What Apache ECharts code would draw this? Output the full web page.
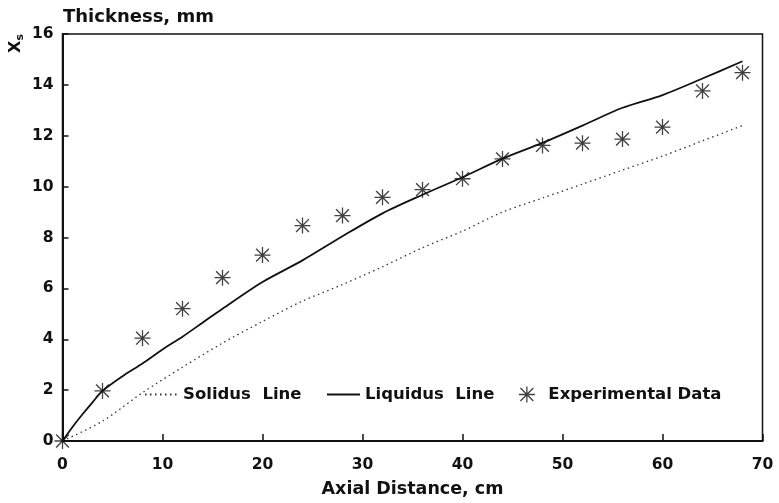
<!DOCTYPE html>
<html>
<head>
<meta charset="utf-8">
<script src="https://cdn.jsdelivr.net/npm/echarts@6/dist/echarts.min.js"></script>
<style>
html,body{margin:0;padding:0;background:#fff;}
#chart{width:779px;height:503px;}
</style>
</head>
<body>
<div id="chart"></div>
<script>
// ---- data ----
const xTicks = [0, 10, 20, 30, 40, 50, 60, 70];
const yTicks = [0, 2, 4, 6, 8, 10, 12, 14, 16];

const solidusX = [0, 4, 8, 12, 16, 20, 24, 28, 32, 36, 40, 44, 48, 52, 56, 60, 64, 68];
const solidusY = [0, 0.78, 1.9, 2.9, 3.85, 4.7, 5.5, 6.15, 6.85, 7.6, 8.25, 9.0, 9.55, 10.1, 10.65, 11.2, 11.8, 12.4];

const liquidusX = [0, 1, 2, 3, 4, 6, 8, 10, 12, 14, 16, 20, 24, 28, 32, 36, 40, 44, 48, 52, 56, 60, 64, 68];
const liquidusY = [0, 0.55, 1.05, 1.52, 1.97, 2.55, 3.05, 3.6, 4.1, 4.65, 5.2, 6.25, 7.1, 8.05, 8.95, 9.68, 10.37, 11.1, 11.72, 12.4, 13.1, 13.6, 14.25, 14.93];

const expX = [0, 4, 8, 12, 16, 20, 24, 28, 32, 36, 40, 44, 48, 52, 56, 60, 64, 68];
const expY = [0, 1.97, 4.04, 5.2, 6.42, 7.31, 8.47, 8.86, 9.58, 9.88, 10.31, 11.09, 11.62, 11.71, 11.87, 12.34, 13.76, 14.48];

const seriesNames = ['Solidus  Line', 'Liquidus  Line', 'Experimental Data'];
const titleText = 'Thickness, mm';
const xName = 'Axial Distance, cm';

// ---- build ----
const zip = (xs, ys) => xs.map((x, i) => [x, ys[i]]);
const FONT = '"DejaVu Sans", sans-serif';
const star = 'path://M9.2 0h1.6v20h-1.6Z M0 9.2h20v1.6h-20Z M1.4 2.6L2.6 1.4L18.6 17.4L17.4 18.6Z M17.4 1.4L18.6 2.6L2.6 18.6L1.4 17.4Z';

const chart = echarts.init(document.getElementById('chart'), null, {renderer: 'canvas'});
chart.setOption({
  animation: false,
  backgroundColor: '#fff',
  title: {
    text: titleText, left: 58, top: 3,
    textStyle: {fontFamily: FONT, fontWeight: 'bold', fontSize: 18, color: '#111'}
  },
  graphic: [{
    type: 'text', left: 8, top: 34, rotation: Math.PI / 2,
    style: {
      text: '{x|X}{s|s}',
      rich: {
        x: {fontFamily: FONT, fontWeight: 'bold', fontSize: 16, fill: '#111'},
        s: {fontFamily: FONT, fontWeight: 'bold', fontSize: 11, fill: '#111', padding: [8, 0, 0, 0]}
      }
    }
  }],
  legend: {
    left: 139, top: 381, itemGap: 24.5, itemWidth: 33, itemHeight: 16,
    data: [
      {name: seriesNames[0], itemStyle: {opacity: 0}},
      {name: seriesNames[1], itemStyle: {opacity: 0}},
      {name: seriesNames[2]}
    ],
    textStyle: {fontFamily: FONT, fontWeight: 'bold', fontSize: 16.5, color: '#111'}
  },
  grid: {
    left: 62.5, right: 16.5, top: 34, bottom: 60.5,
    show: true, borderColor: '#111', borderWidth: 1.5
  },
  xAxis: {
    type: 'value', min: xTicks[0], max: xTicks[xTicks.length - 1], interval: 10,
    name: xName, nameLocation: 'middle', nameGap: 39,
    nameTextStyle: {fontFamily: FONT, fontWeight: 'bold', fontSize: 17.5, color: '#111'},
    axisLine: {show: true, lineStyle: {color: '#111', width: 2}},
    axisTick: {show: true, inside: true, length: 7, lineStyle: {color: '#111', width: 1.5}},
    axisLabel: {margin: 16, fontFamily: FONT, fontWeight: 'bold', fontSize: 15.5, color: '#111'},
    splitLine: {show: false}
  },
  yAxis: {
    type: 'value', min: yTicks[0], max: yTicks[yTicks.length - 1], interval: 2,
    axisLine: {show: true, lineStyle: {color: '#111', width: 2}},
    axisTick: {show: true, inside: true, length: 6, lineStyle: {color: '#111', width: 1.5}},
    axisLabel: {margin: 9, fontFamily: FONT, fontWeight: 'bold', fontSize: 15.5, color: '#111'},
    splitLine: {show: false}
  },
  series: [
    {
      name: seriesNames[0], type: 'line', data: zip(solidusX, solidusY),
      symbol: 'none', smooth: 0.3,
      lineStyle: {color: '#333', width: 1.3, type: [1.5, 3.5]},
      itemStyle: {color: '#333'}
    },
    {
      name: seriesNames[1], type: 'line', data: zip(liquidusX, liquidusY),
      symbol: 'none', smooth: 0.3,
      lineStyle: {color: '#111', width: 1.8},
      itemStyle: {color: '#111'}
    },
    {
      name: seriesNames[2], type: 'scatter', data: zip(expX, expY),
      symbol: star, symbolSize: 16,
      itemStyle: {color: '#111'}
    }
  ]
});
</script>
</body>
</html>
